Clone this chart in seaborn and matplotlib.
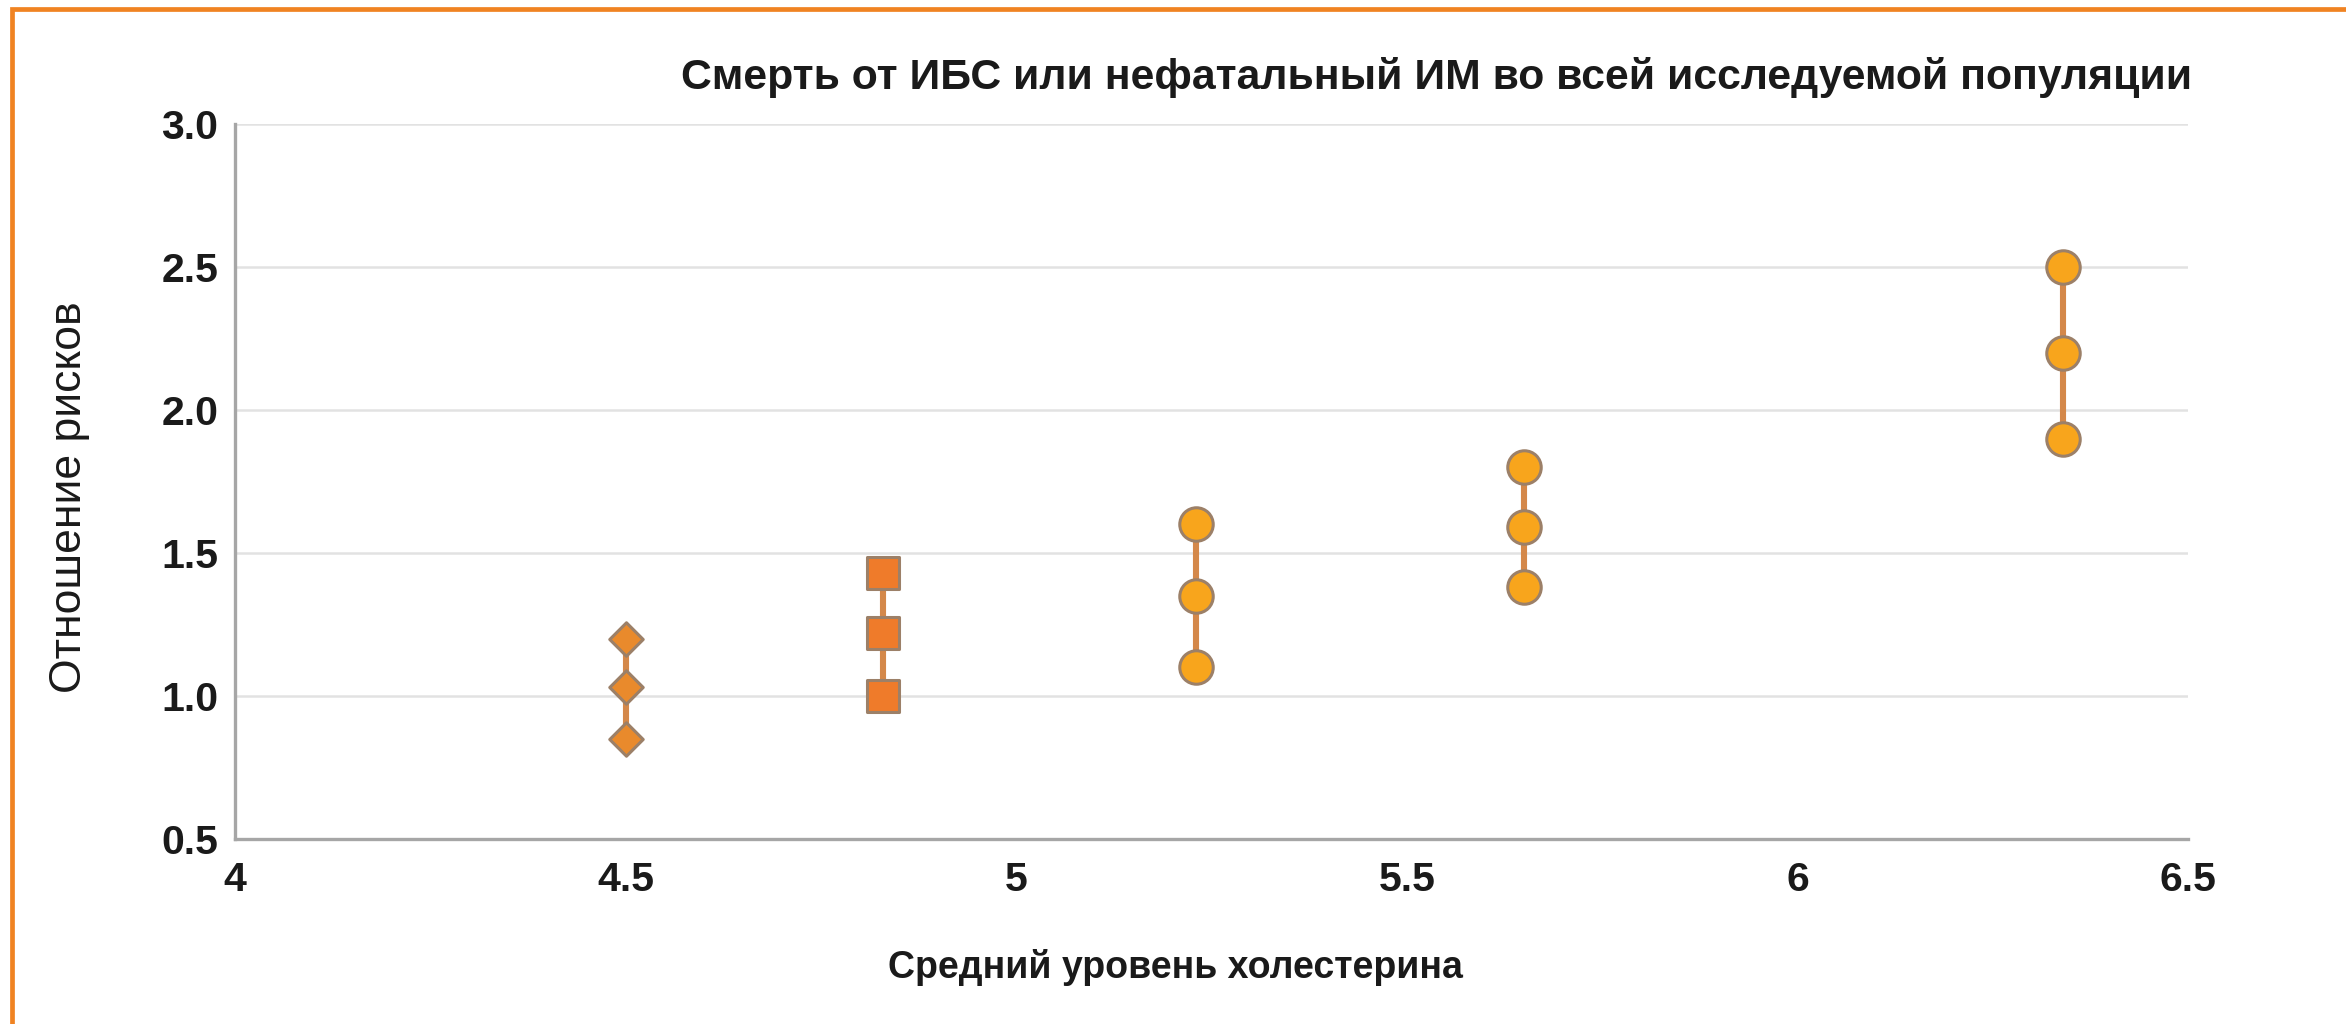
import matplotlib
matplotlib.use("Agg")
import matplotlib.pyplot as plt
import seaborn as sns
import pandas as pd
from matplotlib.patches import Rectangle

# Hazard ratio estimates (lower, point, upper) by mean cholesterol level
cholesterol = [4.50, 4.83, 5.23, 5.65, 6.34]
hr_low = [0.85, 1.00, 1.10, 1.38, 1.90]
hr_mid = [1.03, 1.22, 1.35, 1.59, 2.20]
hr_high = [1.20, 1.43, 1.60, 1.80, 2.50]
marker_kind = ["diamond", "square", "circle", "circle", "circle"]

title = "Смерть от ИБС или нефатальный ИМ во всей исследуемой популяции"
x_label = "Средний уровень холестерина"
y_label = "Отношение рисков"
x_ticks = [4, 4.5, 5, 5.5, 6, 6.5]
x_tick_labels = ["4", "4.5", "5", "5.5", "6", "6.5"]
y_ticks = [0.5, 1.0, 1.5, 2.0, 2.5, 3.0]
y_tick_labels = ["0.5", "1.0", "1.5", "2.0", "2.5", "3.0"]

rows = []
for i, x in enumerate(cholesterol):
    for y in (hr_low[i], hr_mid[i], hr_high[i]):
        rows.append({"group": i, "x": x, "y": y, "kind": marker_kind[i]})
df = pd.DataFrame(rows)

sns.set_theme(style="white")
plt.rcParams["font.family"] = ["Liberation Sans", "DejaVu Sans"]

fig = plt.figure(figsize=(23.46, 10.24), dpi=100)
ax = fig.add_axes([0.1002, 0.1807, 0.8325, 0.6982])

# vertical whiskers joining the estimates of each group
sns.lineplot(data=df, x="x", y="y", units="group", estimator=None, sort=False,
             color="#d4884a", linewidth=4.4, ax=ax, legend=False, zorder=2)

fills = {"diamond": "#e98a2c", "square": "#ef7b2a", "circle": "#f8a51c"}
shapes = {"diamond": "D", "square": "s", "circle": "o"}
sizes = {"diamond": 290, "square": 540, "circle": 580}
for kind in ["diamond", "square", "circle"]:
    sub = df[df["kind"] == kind]
    sns.scatterplot(data=sub, x="x", y="y", marker=shapes[kind], s=sizes[kind],
                    color=fills[kind], edgecolor="#9c8068", linewidth=2.2,
                    ax=ax, legend=False, zorder=3)

ax.set_xlim(4, 6.5)
ax.set_ylim(0.5, 3.0)
ax.set_xticks(x_ticks)
ax.set_xticklabels(x_tick_labels)
ax.set_yticks(y_ticks)
ax.set_yticklabels(y_tick_labels)
ax.tick_params(axis="both", length=0, labelsize=29.5, colors="#1a1a1a")
ax.tick_params(axis="x", pad=16)
ax.tick_params(axis="y", pad=12)
for lab in ax.get_xticklabels() + ax.get_yticklabels():
    lab.set_fontweight("bold")

ax.grid(axis="y", color="#e2e2e2", linewidth=1.8)
ax.grid(axis="x", visible=False)
for side in ["top", "right"]:
    ax.spines[side].set_visible(False)
for side in ["left", "bottom"]:
    ax.spines[side].set_color("#a6a6a6")
    ax.spines[side].set_linewidth(2.4)

ax.set_xlabel("")
ax.set_ylabel("")
fig.text(1175 / 2346, 1 - 968 / 1024, x_label, ha="center", va="center",
         fontsize=27, fontweight="bold", color="#1a1a1a")
fig.text(70 / 2346, 1 - 497 / 1024, y_label, ha="center", va="center",
         rotation=90, fontsize=32, color="#1a1a1a")
fig.text(2192 / 2346, 1 - 78 / 1024, title, ha="right", va="center",
         fontsize=30.8, fontweight="bold", color="#1a1a1a")

# orange frame around the figure (top and left edges visible)
fig.add_artist(Rectangle((12 / 2346, -0.2), 1.2, 1.2 - 9 / 1024,
                         transform=fig.transFigure, fill=False,
                         edgecolor="#f08322", linewidth=3.4, clip_on=False))

fig.savefig("out.png", dpi=100)
